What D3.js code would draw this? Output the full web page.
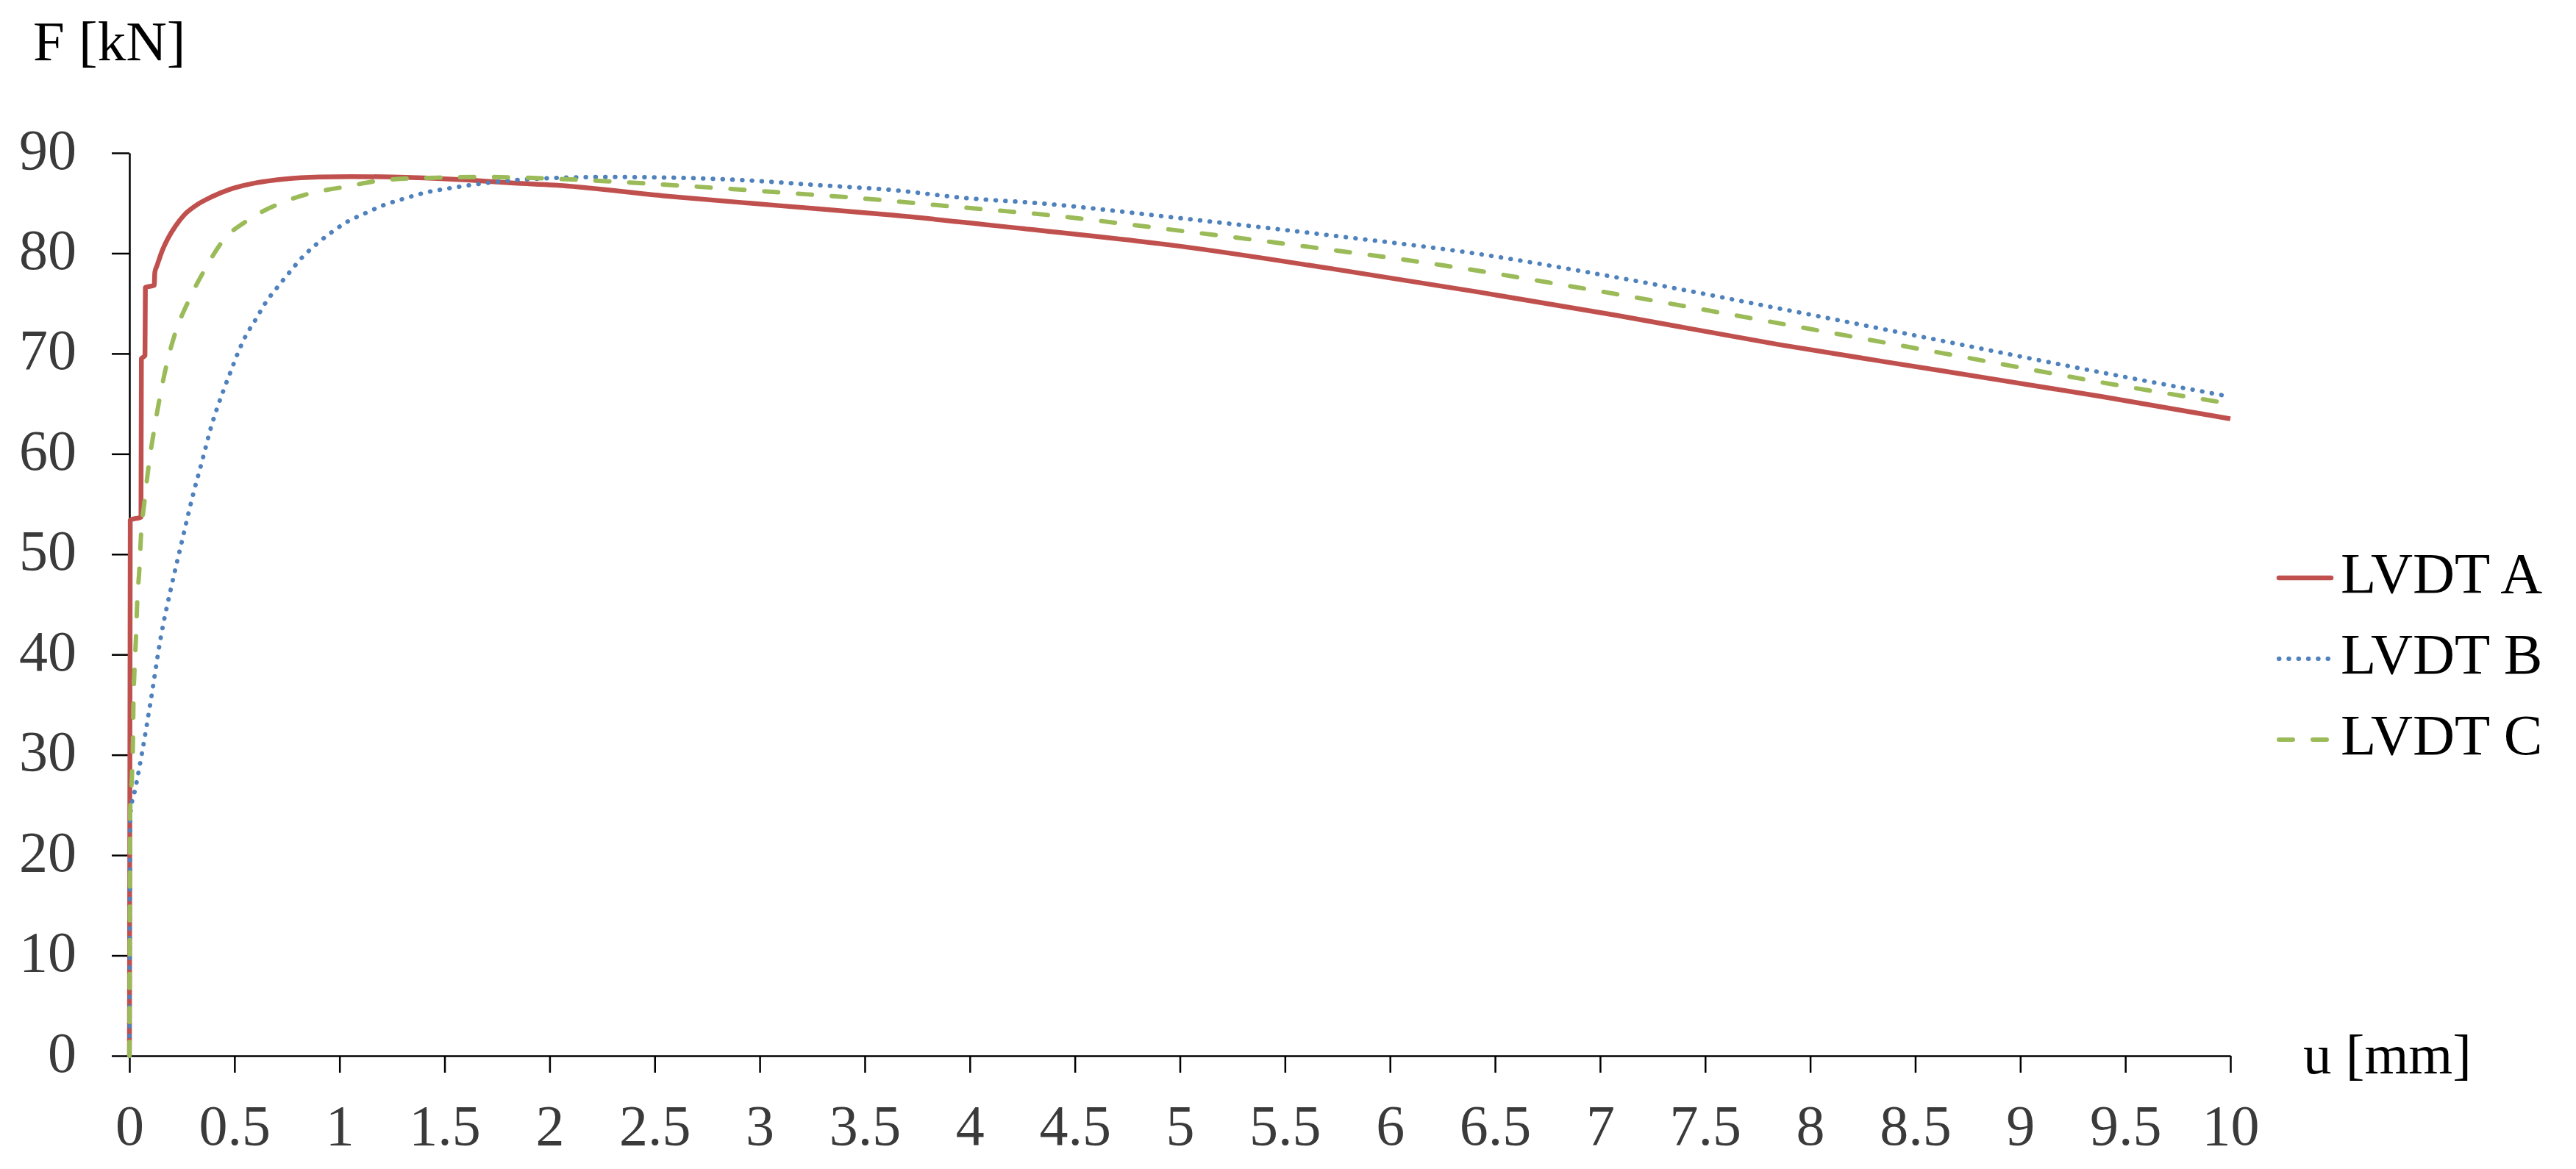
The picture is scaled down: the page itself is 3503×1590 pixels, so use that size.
<!DOCTYPE html>
<html>
<head>
<meta charset="utf-8">
<script src="https://cdn.jsdelivr.net/npm/d3@7"></script>
<style>
  body { margin: 0; background: #fff; }
  text { font-family: "Liberation Serif", "Times New Roman", serif; }
</style>
</head>
<body>
<svg></svg>
<script>
// ---- data ----
const seriesNames = ["LVDT A", "LVDT B", "LVDT C"];

const uA = [0, 0.004, 0.055, 0.057, 0.074, 0.076, 0.118, 0.121, 0.132, 0.155, 0.184, 0.219, 0.26, 0.319, 0.389, 0.482, 0.599, 0.739, 0.902, 1.054, 1.345, 1.61, 1.83, 2.02, 2.555, 3.09, 3.63, 4.28, 5.0, 5.71, 6.43, 7.08, 7.85, 8.62, 9.39, 10.0];
const fA = [0, 53.4, 53.7, 69.5, 69.8, 76.6, 76.8, 78.1, 78.8, 80.2, 81.5, 82.7, 83.8, 84.8, 85.6, 86.4, 87.0, 87.4, 87.6, 87.64, 87.55, 87.3, 87.0, 86.8, 85.7, 84.75, 83.8, 82.4, 80.7, 78.5, 76.1, 73.8, 70.9, 68.3, 65.7, 63.5];

const uB = [0, 0.004, 0.03, 0.06, 0.1, 0.15, 0.2, 0.25, 0.3, 0.35, 0.389, 0.418, 0.447, 0.48, 0.515, 0.552, 0.601, 0.649, 0.704, 0.762, 0.823, 0.89, 0.963, 1.042, 1.124, 1.211, 1.3, 1.42, 1.53, 1.66, 1.84, 2.02, 2.27, 2.555, 2.91, 3.27, 3.63, 3.98, 4.32, 5.0, 5.71, 6.43, 7.05, 7.85, 8.62, 9.39, 10.0];
const fB = [0, 24.0, 26.8, 30.2, 35.2, 41.8, 46.8, 51.3, 55.7, 59.6, 62.7, 64.6, 66.3, 68.1, 70.0, 71.7, 73.4, 75.1, 76.6, 78.1, 79.6, 80.9, 82.1, 83.2, 84.0, 84.8, 85.4, 86.1, 86.5, 86.9, 87.3, 87.5, 87.6, 87.55, 87.3, 86.8, 86.3, 85.5, 85.0, 83.5, 81.8, 79.9, 77.7, 74.5, 71.3, 68.1, 65.7];

const uC = [0, 0.004, 0.012, 0.017, 0.019, 0.024, 0.031, 0.037, 0.047, 0.055, 0.072, 0.089, 0.12, 0.149, 0.178, 0.219, 0.278, 0.354, 0.447, 0.564, 0.709, 0.867, 1.019, 1.18, 1.32, 1.515, 1.68, 1.84, 2.16, 2.50, 2.80, 3.14, 3.47, 3.79, 4.11, 4.28, 4.94, 5.59, 6.25, 7.03, 7.83, 8.64, 9.45, 10.0];
const fC = [0, 24.7, 27.9, 31.5, 35.0, 38.4, 41.6, 45.2, 48.4, 51.8, 55.3, 58.4, 62.7, 66.1, 69.0, 72.1, 75.1, 78.2, 81.3, 83.3, 84.9, 86.0, 86.6, 87.2, 87.45, 87.55, 87.6, 87.55, 87.3, 86.9, 86.5, 86.0, 85.5, 84.9, 84.3, 84.0, 82.4, 80.7, 78.8, 76.1, 73.1, 70.0, 66.9, 65.0];

const xTicks = [0, 0.5, 1, 1.5, 2, 2.5, 3, 3.5, 4, 4.5, 5, 5.5, 6, 6.5, 7, 7.5, 8, 8.5, 9, 9.5, 10];
const yTicks = [0, 10, 20, 30, 40, 50, 60, 70, 80, 90];

// ---- layout ----
const width = 3503, height = 1590;
const svg = d3.select("svg").attr("width", width).attr("height", height);
svg.append("rect").attr("width", width).attr("height", height).attr("fill", "#fff");

const x = d3.scaleLinear().domain([0, 10]).range([176, 3033]);
const y = d3.scaleLinear().domain([0, 90]).range([1436, 208]);

const series = [
    { name: seriesNames[0], u: uA, f: fA, color: "#C0504D", dash: null, cap: "butt", w: 6.5 },
    { name: seriesNames[1], u: uB, f: fB, color: "#4F81BD", dash: "0.5 12.8", cap: "round", w: 6 },
    { name: seriesNames[2], u: uC, f: fC, color: "#9BBB59", dash: "19 27", cap: "round", w: 6 }
];

// ---- axes (drawn first, the curves sit on top of them) ----
const yAxis = svg.append("g")
    .attr("transform", `translate(${x(0)},0)`)
    .call(d3.axisLeft(y).tickValues(yTicks).tickSize(24).tickSizeOuter(0).tickFormat(d3.format("d")));

const xAxis = svg.append("g")
    .attr("transform", `translate(0,${y(0)})`)
    .call(d3.axisBottom(x).tickValues(xTicks).tickSize(23).tickSizeOuter(0).tickFormat(d => String(d)));

[yAxis, xAxis].forEach(g => {
    g.select(".domain").attr("stroke", "#000").attr("stroke-width", 2.5);
    g.selectAll(".tick line").attr("stroke", "#000").attr("stroke-width", 2.5);
    g.selectAll(".tick text")
        .attr("fill", "#3a3a3a")
        .style("font-size", "78px")
        .style("font-family", "'Liberation Serif', serif");
});

yAxis.selectAll(".tick text").attr("x", -72).attr("dy", "0.27em");
xAxis.selectAll(".tick text").attr("y", 121).attr("dy", 0);

// ---- curves ----
const line = d3.line()
    .x(d => x(d[0]))
    .y(d => y(d[1]))
    .curve(d3.curveMonotoneX);

series.forEach(s => {
    const pts = s.u.map((u, i) => [u, s.f[i]]);
    svg.append("path")
        .datum(pts)
        .attr("d", line)
        .attr("fill", "none")
        .attr("stroke", s.color)
        .attr("stroke-width", s.w)
        .attr("stroke-linecap", s.cap)
        .attr("stroke-linejoin", "round")
        .attr("stroke-dasharray", s.dash);
});

// axis titles
svg.append("text")
    .attr("x", 45).attr("y", 82)
    .attr("font-size", "77px").attr("fill", "#000")
    .text("F [kN]");

svg.append("text")
    .attr("x", 3132).attr("y", 1460)
    .attr("font-size", "77px").attr("fill", "#000")
    .text("u [mm]");

// ---- legend ----
const legendY = [786, 896, 1006];
series.forEach((s, i) => {
    svg.append("line")
        .attr("x1", 3099).attr("x2", 3170)
        .attr("y1", legendY[i]).attr("y2", legendY[i])
        .attr("stroke", s.color)
        .attr("stroke-width", s.w)
        .attr("stroke-linecap", s.cap === "butt" ? "round" : s.cap)
        .attr("stroke-dasharray", s.dash);
    svg.append("text")
        .attr("x", 3183).attr("y", legendY[i] + 20)
        .attr("font-size", "79px").attr("fill", "#000")
        .text(s.name);
});
</script>
</body>
</html>
